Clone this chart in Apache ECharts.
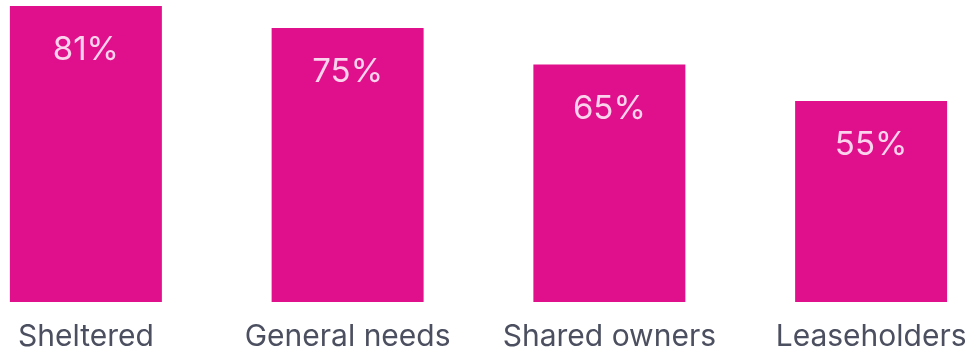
<!DOCTYPE html>
<html>
<head>
<meta charset="utf-8">
<script src="https://cdn.jsdelivr.net/npm/echarts@6/dist/echarts.min.js"></script>
<style>
  html, body { margin: 0; padding: 0; background: #ffffff; }
  #chart { width: 975px; height: 350px; }
</style>
</head>
<body>
<div id="chart"></div>
<script>
// Share of residents in each tenure group
const categories = ['Sheltered', 'General needs', 'Shared owners', 'Leaseholders'];
const values = [81, 75, 65, 55];

const chart = echarts.init(document.getElementById('chart'), null, { renderer: 'canvas' });

chart.setOption({
  animation: false,
  backgroundColor: '#ffffff',
  grid: {
    left: -45, right: -27, top: 6, bottom: 48,
    containLabel: false,
    outerBoundsMode: 'none'
  },
  xAxis: {
    type: 'category',
    data: categories,
    axisLine: { show: false },
    axisTick: { show: false },
    axisLabel: {
      interval: 0,
      margin: 20,
      fontFamily: 'Inter',
      fontSize: 30,
      color: '#4b4f5f'
    }
  },
  yAxis: {
    type: 'value',
    min: 0,
    max: 81,
    show: false,
    splitLine: { show: false }
  },
  series: [{
    type: 'bar',
    data: values,
    barWidth: 152,
    itemStyle: { color: '#e0108c' },
    label: {
      show: true,
      position: 'insideTop',
      distance: 28,
      formatter: '{c}%',
      fontFamily: 'Inter',
      fontSize: 33,
      color: '#fbd3ec'
    }
  }]
});
</script>
</body>
</html>
